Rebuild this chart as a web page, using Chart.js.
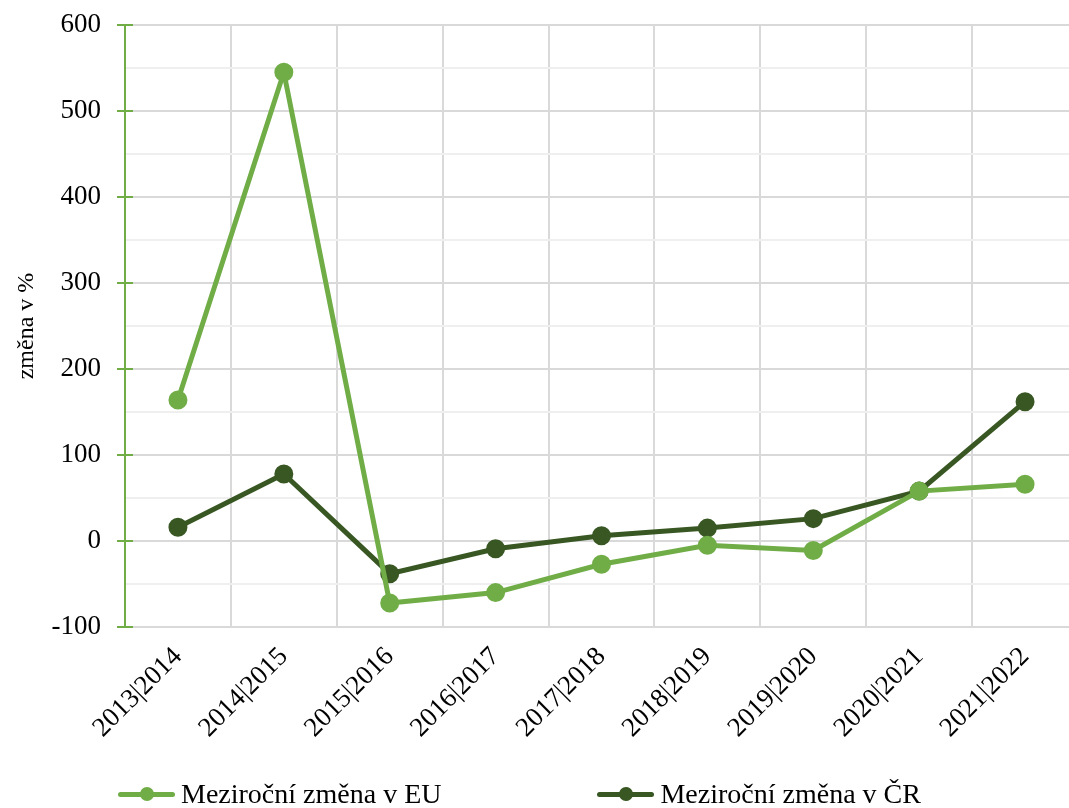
<!DOCTYPE html>
<html>
<head>
<meta charset="utf-8">
<script src="https://cdn.jsdelivr.net/npm/chart.js@4"></script>
<style>
  html, body { margin: 0; padding: 0; background: #fff; overflow: hidden; }
  .wrap { width: 1069px; height: 808px; overflow: hidden; position: relative; }
  .inner { width: 1090px; height: 808px; }
  .legend { position: absolute; left: 118px; top: 778px; display: flex; align-items: center;
            font-family: 'Liberation Serif', 'Times New Roman', serif; font-size: 28px; color: #000; }
  .item { display: flex; align-items: center; }
  .item + .item { margin-left: 156px; }
  .mark { position: relative; width: 57px; height: 14px; margin-right: 6px; }
  .mark::before { content: ""; position: absolute; left: 0; right: 0; top: 5px; height: 5px; border-radius: 3px; background: var(--c); }
  .mark::after { content: ""; position: absolute; left: 22px; top: 0; width: 14px; height: 14px; border-radius: 50%; background: var(--c); }
</style>
</head>
<body>
<div class="wrap">
  <div class="inner"><canvas id="chart" width="1090" height="808"></canvas></div>
  <div class="legend" id="legend"></div>
</div>
<script>
const years = ["2013|2014", "2014|2015", "2015|2016", "2016|2017", "2017|2018",
               "2018|2019", "2019|2020", "2020|2021", "2021|2022"];
const euChange = [164, 545, -72, -60, -27, -5, -11, 58, 66];
const czChange = [16, 78, -38, -9, 6, 15, 26, 58, 162];
const euLabel = "Meziroční změna v EU";
const czLabel = "Meziroční změna v ČR";
const yTitle = "změna v %";

const lightGreen = "#70ad47";
const darkGreen = "#385723";
const fontFam = "'Liberation Serif', 'Times New Roman', serif";

// tick marks that cross the y axis line
const crossTicks = {
    id: "crossTicks",
    afterDraw(chart) {
        const y = chart.scales.y;
        const g = chart.ctx;
        g.save();
        g.strokeStyle = lightGreen;
        g.lineWidth = 2;
        y.ticks.forEach((t, i) => {
            if (t.value % 100 !== 0) return;
            const py = Math.round(y.getPixelForTick(i));
            g.beginPath();
            g.moveTo(y.right - 8, py);
            g.lineTo(y.right + 8, py);
            g.stroke();
        });
        g.restore();
    }
};

const ctx = document.getElementById("chart").getContext("2d");
const chart = new Chart(ctx, {
    type: "line",
    data: {
        labels: years,
        datasets: [
            {
                label: euLabel,
                data: euChange,
                borderColor: lightGreen,
                backgroundColor: lightGreen,
                borderWidth: 5,
                pointRadius: 7,
                pointHoverRadius: 7,
                tension: 0
            },
            {
                label: czLabel,
                data: czChange,
                borderColor: darkGreen,
                backgroundColor: darkGreen,
                borderWidth: 5,
                pointRadius: 7,
                pointHoverRadius: 7,
                tension: 0
            }
        ]
    },
    options: {
        responsive: false,
        animation: false,
        devicePixelRatio: 1,
        layout: { padding: { top: 25, left: 12, right: 6, bottom: 0 } },
        plugins: {
            tooltip: { enabled: false },
            legend: { display: false }
        },
        scales: {
            x: {
                offset: true,
                afterFit: (s) => { s.height = 181; },
                grid: {
                    offset: true,
                    color: "#d9d9d9",
                    lineWidth: 2,
                    drawTicks: false
                },
                border: { display: false },
                ticks: {
                    minRotation: 45,
                    maxRotation: 45,
                    padding: 14,
                    color: "#000",
                    font: { family: fontFam, size: 27 }
                }
            },
            y: {
                min: -100,
                max: 600,
                afterFit: (s) => { s.width = 113; s.paddingTop = 0; s.paddingBottom = 0; },
                title: {
                    display: true,
                    text: yTitle,
                    color: "#000",
                    font: { family: fontFam, size: 24 },
                    padding: 0
                },
                grid: {
                    color: (c) => (c.tick && c.tick.value % 100 === 0) ? "#d9d9d9" : "#efefef",
                    lineWidth: 2,
                    drawTicks: false
                },
                border: { display: true, color: lightGreen, width: 2 },
                ticks: {
                    stepSize: 50,
                    padding: 24,
                    color: "#000",
                    font: { family: fontFam, size: 27 },
                    callback: (v) => v % 100 === 0 ? v : ""
                }
            }
        }
    },
    plugins: [crossTicks]
});

// html legend built from the datasets
document.getElementById("legend").innerHTML = chart.data.datasets.map((ds) =>
    '<div class="item"><span class="mark" style="--c:' + ds.borderColor + '"></span>' + ds.label + '</div>'
).join("");
</script>
</body>
</html>
